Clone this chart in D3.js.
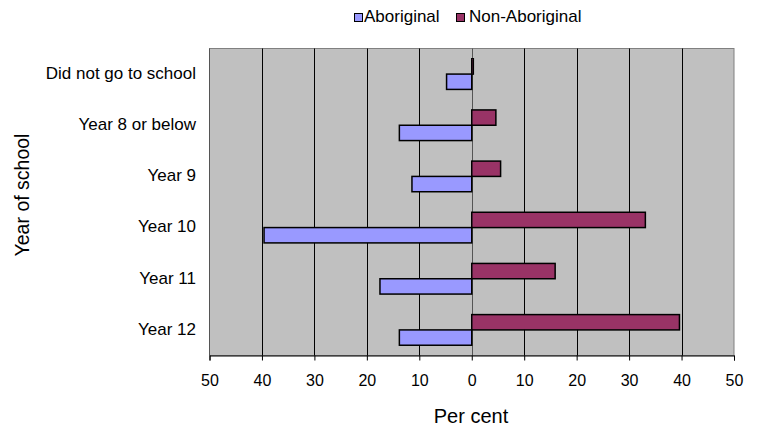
<!DOCTYPE html>
<html>
<head>
<meta charset="utf-8">
<script src="https://cdn.jsdelivr.net/npm/d3@7/dist/d3.min.js"></script>
<style>
  html, body { margin: 0; padding: 0; background: #fff; }
  svg { display: block; font-family: Arial, "Liberation Sans", sans-serif; }
</style>
</head>
<body>
<svg id="chart" width="758" height="430"></svg>
<script>
// Highest year of school completed, per cent of each group
const categories = ["Did not go to school", "Year 8 or below", "Year 9", "Year 10", "Year 11", "Year 12"];
const seriesNames = ["Non-Aboriginal", "Aboriginal"];
const aboriginal = [4.8, 13.8, 11.4, 39.6, 17.5, 13.8];
const nonAboriginal = [0.3, 4.6, 5.5, 33.1, 15.9, 39.6];
const tickValues = [-50, -40, -30, -20, -10, 0, 10, 20, 30, 40, 50];
const colors = { "Aboriginal": "#9999FF", "Non-Aboriginal": "#993366" };

const svg = d3.select("#chart");
const plot = { left: 209.5, right: 734, top: 48.5, bottom: 355.5 };

// Aboriginal values run to the left of zero, Non-Aboriginal to the right
const x = d3.scaleLinear().domain([-50, 50]).range([plot.left, plot.right]);
const y = d3.scaleBand().domain(categories).range([plot.top, plot.bottom]);
const ySub = d3.scaleBand().domain(seriesNames).range([0, y.bandwidth()]).paddingOuter(0.67).paddingInner(0);

const rows = categories.map((c, i) => ({
  category: c,
  values: [
    { series: "Non-Aboriginal", value: nonAboriginal[i] },
    { series: "Aboriginal", value: -aboriginal[i] }
  ]
}));

// Plot background
svg.append("rect")
  .attr("x", plot.left).attr("y", plot.top)
  .attr("width", plot.right - plot.left).attr("height", plot.bottom - plot.top)
  .attr("fill", "#C0C0C0").attr("stroke", "#808080").attr("stroke-width", 1);

// Vertical gridlines
svg.append("g").selectAll("line")
  .data(tickValues.filter(t => t !== -50 && t !== 50))
  .join("line")
  .attr("x1", d => Math.round(x(d)) + 0.5).attr("x2", d => Math.round(x(d)) + 0.5)
  .attr("y1", plot.top).attr("y2", plot.bottom)
  .attr("stroke", d => d === 0 ? "#555" : "#000").attr("stroke-width", 1);

// Bars
const groups = svg.append("g").selectAll("g")
  .data(rows).join("g")
  .attr("transform", d => `translate(0,${y(d.category)})`);

groups.selectAll("rect")
  .data(d => d.values).join("rect")
  .attr("x", d => x(Math.min(0, d.value)))
  .attr("y", d => ySub(d.series))
  .attr("width", d => Math.abs(x(d.value) - x(0)))
  .attr("height", ySub.bandwidth())
  .attr("fill", d => colors[d.series])
  .attr("stroke", "#000").attr("stroke-width", 1.5);

// Left axis line
svg.append("line")
  .attr("x1", plot.left).attr("x2", plot.left)
  .attr("y1", plot.top).attr("y2", plot.bottom)
  .attr("stroke", "#555");

// Bottom axis with absolute-value labels
const xAxis = svg.append("g")
  .attr("transform", `translate(0,${plot.bottom})`)
  .call(d3.axisBottom(x).tickValues(tickValues).tickFormat(d => Math.abs(d)).tickSize(5).tickPadding(14));
xAxis.select(".domain").attr("stroke", "#000");
xAxis.selectAll(".tick line").attr("stroke", "#000");
xAxis.selectAll("text").attr("font-size", 16).attr("fill", "#000").attr("font-family", "Arial, 'Liberation Sans', sans-serif");

// Category labels
svg.append("g").selectAll("text")
  .data(categories).join("text")
  .attr("x", 196)
  .attr("y", d => y(d) + y.bandwidth() / 2)
  .attr("dy", "0.28em")
  .attr("text-anchor", "end")
  .attr("font-size", 17)
  .text(d => d);

// Axis titles
svg.append("text")
  .attr("x", 471).attr("y", 423)
  .attr("text-anchor", "middle").attr("font-size", 20)
  .text("Per cent");

svg.append("text")
  .attr("transform", "translate(29,195) rotate(-90)")
  .attr("text-anchor", "middle").attr("font-size", 19.5)
  .text("Year of school");

// Legend
const legendItems = [
  { name: "Aboriginal", sx: 354, tx: 364 },
  { name: "Non-Aboriginal", sx: 456, tx: 469 }
];
const legend = svg.append("g").attr("transform", "translate(0,13)");
legendItems.forEach(item => {
  legend.append("rect").attr("x", item.sx + 0.5).attr("y", 0.5).attr("width", 8).attr("height", 8)
    .attr("fill", colors[item.name]).attr("stroke", "#000").attr("stroke-width", 1);
  legend.append("text").attr("x", item.tx).attr("y", 9)
    .attr("font-size", 17).text(item.name);
});
</script>
</body>
</html>
